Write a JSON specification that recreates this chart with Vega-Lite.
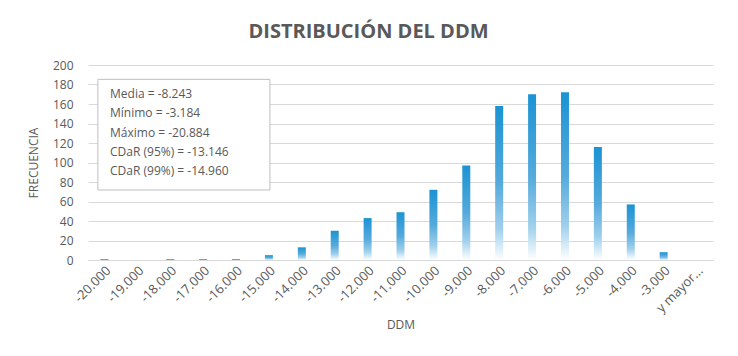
{
  "$schema": "https://vega.github.io/schema/vega-lite/v6.json",
  "width": 625,
  "height": 195,
  "autosize": {"type": "none"},
  "padding": {"left": 88, "top": 65, "right": 25, "bottom": 96},
  "background": "white",
  "title": {
    "text": "DISTRIBUCIÓN DEL DDM",
    "font": "Open Sans",
    "fontSize": 20,
    "fontWeight": "bold",
    "color": "#595959",
    "anchor": "middle",
    "dx": -32,
    "offset": 17
  },
  "config": {
    "view": {"stroke": null},
    "axis": {
      "labelFont": "Open Sans",
      "labelFontSize": 12,
      "labelColor": "#595959",
      "titleFont": "Open Sans",
      "titleFontSize": 12,
      "titleFontWeight": "normal",
      "titleColor": "#595959"
    }
  },
  "resolve": {"scale": {"x": "independent"}},
  "encoding": {
    "y": {
      "field": "f",
      "type": "quantitative",
      "scale": {"domain": [0, 200]},
      "axis": {
        "title": "FRECUENCIA",
        "values": [0, 20, 40, 60, 80, 100, 120, 140, 160, 180, 200],
        "labelOverlap": false,
        "ticks": false,
        "domain": false,
        "gridColor": "#d9d9d9",
        "labelPadding": 15,
        "titlePadding": 12
      }
    }
  },
  "layer": [
    {
      "data": {
        "values": [
          {"bin": "-20.000", "f": 1},
          {"bin": "-19.000", "f": 0},
          {"bin": "-18.000", "f": 1},
          {"bin": "-17.000", "f": 1},
          {"bin": "-16.000", "f": 1},
          {"bin": "-15.000", "f": 5},
          {"bin": "-14.000", "f": 13},
          {"bin": "-13.000", "f": 30},
          {"bin": "-12.000", "f": 43},
          {"bin": "-11.000", "f": 49},
          {"bin": "-10.000", "f": 72},
          {"bin": "-9.000", "f": 97},
          {"bin": "-8.000", "f": 158},
          {"bin": "-7.000", "f": 170},
          {"bin": "-6.000", "f": 172},
          {"bin": "-5.000", "f": 116},
          {"bin": "-4.000", "f": 57},
          {"bin": "-3.000", "f": 8},
          {"bin": "y mayor...", "f": 0}
        ]
      },
      "mark": {
        "type": "bar",
        "size": 8,
        "color": {
          "gradient": "linear",
          "x1": 0, "y1": 0, "x2": 0, "y2": 1,
          "stops": [
            {"offset": 0, "color": "#1b93d3"},
            {"offset": 0.5, "color": "#55aadc"},
            {"offset": 0.8, "color": "#a0d0ec"},
            {"offset": 1, "color": "#ffffff"}
          ]
        }
      },
      "encoding": {
        "x": {
          "field": "bin",
          "type": "nominal",
          "sort": null,
          "scale": {"paddingInner": 0, "paddingOuter": 0},
          "axis": {
            "title": "DDM",
            "labelAngle": -45,
            "labelAlign": "right",
            "labelBaseline": "top",
            "labelPadding": 4,
            "labelFontSize": 13,
            "ticks": false,
            "domainColor": "#d9d9d9",
            "titlePadding": 5
          }
        }
      }
    },
    {
      "data": {"values": [{"x0": 0.3, "x1": 5.53, "f": 71.8, "f2": 185.3}]},
      "mark": {"type": "rect", "fill": "white", "stroke": "#bfbfbf", "strokeWidth": 1},
      "encoding": {
        "x": {"field": "x0", "type": "quantitative", "scale": {"domain": [0, 19]}, "axis": null},
        "x2": {"field": "x1"},
        "y2": {"field": "f2"}
      }
    },
    {
      "data": {
        "values": [
          {"tx": 0.67, "f": 170.3, "label": "Media = -8.243"},
          {"tx": 0.67, "f": 150.5, "label": "Mínimo = -3.184"},
          {"tx": 0.67, "f": 130.6, "label": "Máximo = -20.884"},
          {"tx": 0.67, "f": 111.1, "label": "CDaR (95%) = -13.146"},
          {"tx": 0.67, "f": 91.6, "label": "CDaR (99%) = -14.960"}
        ]
      },
      "mark": {"type": "text", "align": "left", "baseline": "middle", "font": "Open Sans", "fontSize": 12, "color": "#595959"},
      "encoding": {
        "x": {"field": "tx", "type": "quantitative", "scale": {"domain": [0, 19]}, "axis": null},
        "text": {"field": "label"}
      }
    }
  ]
}
